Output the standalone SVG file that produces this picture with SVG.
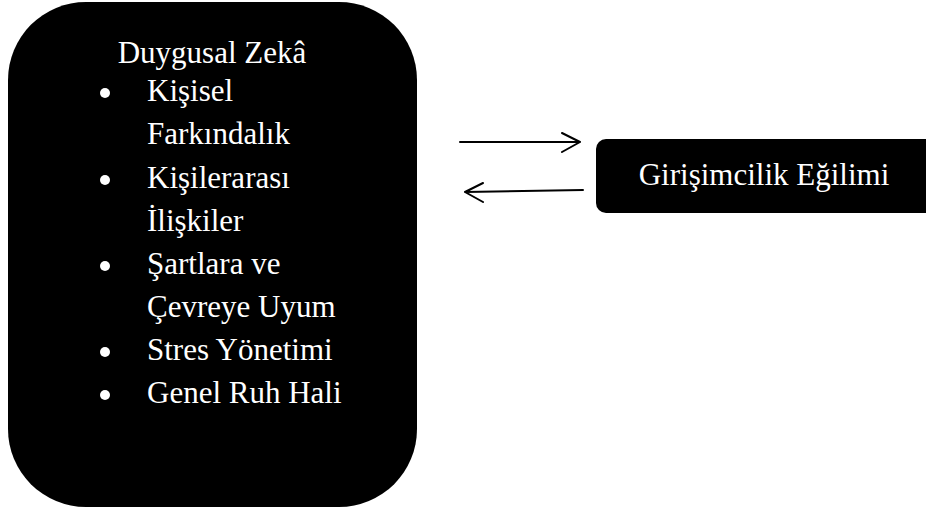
<svg xmlns="http://www.w3.org/2000/svg" width="926" height="509" viewBox="0 0 926 509">
<style>
.t{font-family:"Liberation Serif","Times New Roman",serif;font-size:31px;fill:#fff}
.c{stroke:#000;stroke-width:2;fill:none;stroke-linecap:round;stroke-linejoin:round}
</style>
<rect width="926" height="509" fill="#fff"/>
<g id="duygusal-zeka">
<rect x="8" y="2" width="409" height="505" rx="78" ry="78" fill="#000"/>
<text class="t" x="212" y="63" text-anchor="middle">Duygusal Zekâ</text>
<g fill="#fff">
<circle cx="105" cy="93" r="5"/>
<circle cx="105" cy="180" r="5"/>
<circle cx="105" cy="266" r="5"/>
<circle cx="105" cy="352" r="5"/>
<circle cx="105" cy="395" r="5"/>
</g>
<text class="t" x="147" y="101">Kişisel</text>
<text class="t" x="147" y="144">Farkındalık</text>
<text class="t" x="147" y="188">Kişilerarası</text>
<text class="t" x="147" y="231">İlişkiler</text>
<text class="t" x="147" y="274">Şartlara ve</text>
<text class="t" x="147" y="317">Çevreye Uyum</text>
<text class="t" x="147" y="360">Stres Yönetimi</text>
<text class="t" x="147" y="403">Genel Ruh Hali</text>
</g>
<g id="girisimcilik">
<rect x="596" y="139" width="340" height="74" rx="10" ry="10" fill="#000"/>
<text class="t" x="764" y="185" text-anchor="middle">Girişimcilik Eğilimi</text>
</g>
<g id="connectors">
<path class="c" d="M460 142 H580 M562 133 L580 142 L562 152"/>
<path class="c" d="M583 190 L465 192 M483 183 L465 192 L483 202"/>
</g>
</svg>
